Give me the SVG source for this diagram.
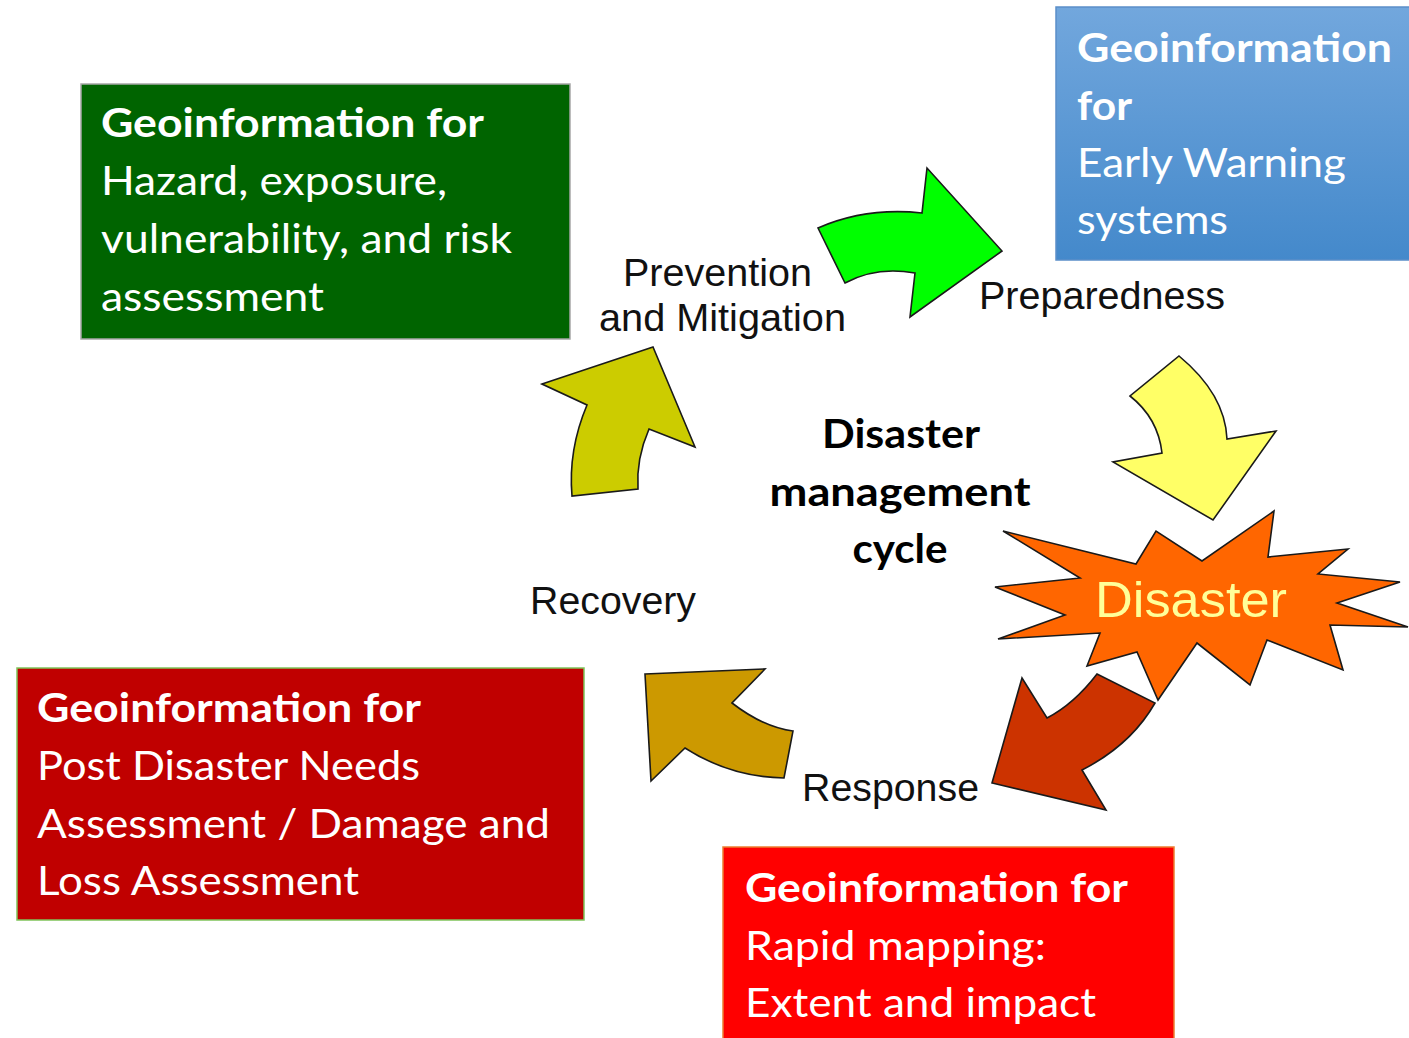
<svg xmlns="http://www.w3.org/2000/svg" width="1409" height="1038" viewBox="0 0 1409 1038">
<defs>
<linearGradient id="blueGrad" x1="0" y1="0" x2="0" y2="1">
<stop offset="0" stop-color="#72a7dd"/>
<stop offset="1" stop-color="#4489cb"/>
</linearGradient>
<style>
.box-text{font-family:Lato,"Open Sans","Liberation Sans",sans-serif;font-size:40px;fill:#ffffff}
.b{font-weight:bold}
.lbl{font-family:"Liberation Sans",Arial,sans-serif;font-size:38px;fill:#111111}
.center{font-family:Lato,"Open Sans","Liberation Sans",sans-serif;font-size:41px;font-weight:bold;fill:#000000;text-anchor:middle}
.arrow{stroke:#1a1a1a;stroke-width:1.6;stroke-linejoin:miter}
</style>
</defs>
<rect width="1409" height="1038" fill="#ffffff"/>

<g id="box-hazard">
<rect x="81" y="84" width="489" height="255" fill="#006400" stroke="#a6a6a6" stroke-width="1.5"/>
<text class="box-text b" x="101" y="137" textLength="383" lengthAdjust="spacingAndGlyphs">Geoinformation for</text>
<text class="box-text" x="101" y="195" textLength="346" lengthAdjust="spacingAndGlyphs">Hazard, exposure,</text>
<text class="box-text" x="101" y="253" textLength="411" lengthAdjust="spacingAndGlyphs">vulnerability, and risk</text>
<text class="box-text" x="101" y="311" textLength="223" lengthAdjust="spacingAndGlyphs">assessment</text>
</g>

<g id="box-early-warning">
<rect x="1056" y="7" width="360" height="253" fill="url(#blueGrad)" stroke="#5b8fc9" stroke-width="1.5"/>
<text class="box-text b" x="1077" y="62" textLength="315" lengthAdjust="spacingAndGlyphs">Geoinformation</text>
<text class="box-text b" x="1077" y="120" textLength="55" lengthAdjust="spacingAndGlyphs">for</text>
<text class="box-text" x="1077" y="177" textLength="269" lengthAdjust="spacingAndGlyphs">Early Warning</text>
<text class="box-text" x="1077" y="234" textLength="151" lengthAdjust="spacingAndGlyphs">systems</text>
</g>

<g id="box-post-disaster">
<rect x="17" y="668" width="567" height="252" fill="#c00000" stroke="#7fc35a" stroke-width="1.5"/>
<text class="box-text b" x="37" y="722" textLength="384" lengthAdjust="spacingAndGlyphs">Geoinformation for</text>
<text class="box-text" x="37" y="780" textLength="383" lengthAdjust="spacingAndGlyphs">Post Disaster Needs</text>
<text class="box-text" x="37" y="838" textLength="513" lengthAdjust="spacingAndGlyphs">Assessment / Damage and</text>
<text class="box-text" x="37" y="895" textLength="322" lengthAdjust="spacingAndGlyphs">Loss Assessment</text>
</g>

<g id="box-rapid-mapping">
<rect x="723" y="847" width="451" height="200" fill="#ff0000" stroke="#ed7d31" stroke-width="1.5"/>
<text class="box-text b" x="745" y="902" textLength="383" lengthAdjust="spacingAndGlyphs">Geoinformation for</text>
<text class="box-text" x="745" y="960" textLength="301" lengthAdjust="spacingAndGlyphs">Rapid mapping:</text>
<text class="box-text" x="745" y="1017" textLength="351" lengthAdjust="spacingAndGlyphs">Extent and impact</text>
</g>

<g id="connectors">
<path id="arrow-prevention-preparedness" class="arrow" fill="#00ff00" d="M818,228 Q866,207 922,213 L927,168 L1002,251 L910,317 L915,273 Q876,266 845,283 Z"/>
<path id="arrow-preparedness-disaster" class="arrow" fill="#ffff66" d="M1179,356 Q1225,394 1227,439 L1276,431 L1213,520 L1113,462 L1162,453 Q1158,418 1130,396 Z"/>
<path id="arrow-disaster-response" class="arrow" fill="#cc3300" d="M1097,674 L1155,703 Q1131,745 1082,770 L1106,810 L992,783 L1022,678 L1047,718 Q1074,704 1097,674 Z"/>
<path id="arrow-response-recovery" class="arrow" fill="#cc9900" d="M645,674 L765,669 L732,703 Q763,727 793,731 L784,778 Q730,777 685,748 L651,781 Z"/>
<path id="arrow-recovery-prevention" class="arrow" fill="#cccc00" d="M542,384 L653,347 L695,447 L649,429 Q636,459 638,489 L572,496 Q568,450 587,405 Z"/>
</g>

<g id="disaster">
<polygon class="arrow" fill="#ff6600" points="1003,531 1136,564 1156,531 1202,561 1274,511 1268,557 1348,549 1318,574 1400,582 1337,603 1408,627 1330,625 1343,670 1267,640 1250,685 1197,643 1158,700 1137,652 1087,666 1100,633 998,639 1065,615 995,587 1080,578"/>
<text x="1095" y="617" font-family="'Liberation Sans',Arial,sans-serif" font-size="50" fill="#ffff99" textLength="192" lengthAdjust="spacingAndGlyphs">Disaster</text>
</g>

<g id="label-prevention">
<text class="lbl" x="623" y="286" textLength="189" lengthAdjust="spacingAndGlyphs">Prevention</text>
<text class="lbl" x="599" y="331" textLength="247" lengthAdjust="spacingAndGlyphs">and Mitigation</text>
</g>
<g id="label-preparedness">
<text class="lbl" x="979" y="309" textLength="246" lengthAdjust="spacingAndGlyphs">Preparedness</text>
</g>
<g id="label-recovery">
<text class="lbl" x="530" y="614" textLength="166" lengthAdjust="spacingAndGlyphs">Recovery</text>
</g>
<g id="label-response">
<text class="lbl" x="802" y="801" textLength="177" lengthAdjust="spacingAndGlyphs">Response</text>
</g>

<g id="center-title">
<text class="center" x="901" y="448" textLength="158" lengthAdjust="spacingAndGlyphs">Disaster</text>
<text class="center" x="900" y="506" textLength="261" lengthAdjust="spacingAndGlyphs">management</text>
<text class="center" x="900" y="563" textLength="95" lengthAdjust="spacingAndGlyphs">cycle</text>
</g>
</svg>
